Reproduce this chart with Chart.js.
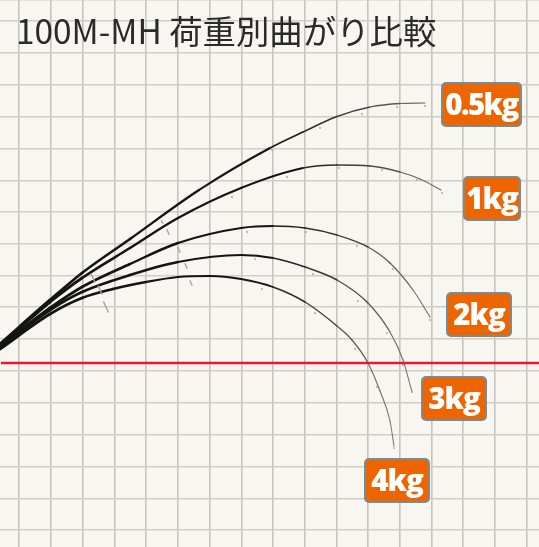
<!DOCTYPE html>
<html lang="ja">
<head>
<meta charset="utf-8">
<title>100M-MH 荷重別曲がり比較</title>
<script src="https://cdn.jsdelivr.net/npm/chart.js@4/dist/chart.umd.min.js"></script>
<style>
    html, body { margin: 0; padding: 0; background: #f7f6f0; }
    #wrap { position: relative; width: 539px; height: 547px; overflow: hidden; }
    #rodChart { position: absolute; left: 0; top: 0; }
    #title {
        position: absolute; left: 16px; top: 5px; white-space: nowrap;
        font: 400 33.4px "Noto Sans CJK JP", "Noto Sans", sans-serif; color: #2a2a2a;
    }
    .badge {
        position: absolute; box-sizing: border-box; height: 45px;
        background: #ee6500; border: 2px solid #7d8a8e; border-radius: 5px;
        color: #fff; text-align: center; white-space: nowrap;
        font: 800 29.5px/39px "Open Sans", sans-serif; letter-spacing: -1px;
    }
</style>
</head>
<body>
<div id="wrap">
    <canvas id="rodChart" width="539" height="547"></canvas>
    <div id="title">100M-MH 荷重別曲がり比較</div>
    <div class="badge" style="left:441px;top:82px;width:81px;letter-spacing:-1.6px">0.5kg</div>
    <div class="badge" style="left:463px;top:176px;width:58px">1kg</div>
    <div class="badge" style="left:446px;top:292px;width:66px">2kg</div>
    <div class="badge" style="left:421px;top:376px;width:66px">3kg</div>
    <div class="badge" style="left:364px;top:458px;width:66px">4kg</div>
</div>
<script>
    // grid positions
    const gridX = [19, 51, 83, 114.5, 146, 178, 210, 241.5, 273, 305, 337, 368, 400, 432, 463, 495, 527];
    const gridY = [0, 21, 52.5, 84.5, 116.5, 148.5, 180.5, 212, 243.7, 275.5, 307, 339, 371, 403, 435, 467, 498.5, 530];

    // rod curves
    const rod05x = [0, 50, 82, 130, 199, 270, 303, 337, 370, 400, 425];
    const rod05y = [344, 300, 273, 239, 190, 148, 132, 116.5, 107, 103.5, 103];
    const rod1x = [0, 50, 82, 130, 178, 241, 303, 337, 370, 400, 420, 441];
    const rod1y = [345, 302, 278, 248, 218, 188, 168, 165, 166, 172, 179, 190];
    const rod2x = [0, 50, 82, 130, 178, 241, 273, 305, 337, 368, 390, 413, 430];
    const rod2y = [346, 308, 287, 264, 243, 228, 226, 228, 235, 247, 263, 290, 317];
    const rod3x = [0, 50, 82, 130, 178, 241, 273, 305, 337, 368, 390, 403, 412];
    const rod3y = [347, 310, 292, 275, 262, 255, 258, 267, 280, 303, 332, 360, 392];
    const rod4x = [0, 50, 82, 113, 146, 178, 210, 241, 273, 305, 337, 352, 368, 380, 390, 394];
    const rod4y = [349, 314, 298, 289, 282, 277, 276, 279, 287, 302, 326, 340, 363, 391, 421, 446];

    // guides, hanging just under each curve
    const guideX = [425, 397, 362, 320, 272, 162, 442, 417, 382, 339, 287, 232, 168, 357, 306, 247, 179, 93, 430, 393, 412, 403, 387, 358, 313, 255, 186, 100, 394, 390, 377, 355, 315, 262, 191, 106];
    const guideY = [106, 107, 114, 128, 150, 222, 193, 180, 170, 168, 177, 197, 232, 246, 232, 232, 250, 278, 320, 269, 392, 365, 333, 301, 274, 259, 266, 290, 448, 421, 387, 349, 313, 289, 283, 307];
    const guideLen = [1, 1, 1, 1, 1, 2, 1, 1, 1, 1, 1, 1, 3, 1, 1, 1, 3, 5, 1, 1, 1, 1, 1, 1, 1, 1, 3, 5, 1, 1, 1, 1, 1, 1, 3, 6];

    // red reference line
    const refX = [1, 539];
    const refY = [363, 363];

    const toPoints = (xs, ys) => xs.map((x, i) => ({ x: x, y: ys[i] }));

    function rodDataset(xs, ys) {
        const tipX = xs[xs.length - 1];
        return {
            type: 'line',
            data: toPoints(xs, ys),
            pointRadius: 0,
            cubicInterpolationMode: 'monotone',
            borderCapStyle: 'round',
            segment: {
                // rod gets thinner and paler toward the tip
                borderWidth: c => 3 - 2 * (c.p0.parsed.x / tipX),
                borderColor: c => {
                    const t = c.p0.parsed.x / tipX;
                    const g = t < 0.6 ? 20 : Math.round(20 + (t - 0.6) / 0.4 * 100);
                    return 'rgb(' + g + ',' + g + ',' + g + ')';
                }
            }
        };
    }

    new Chart(document.getElementById('rodChart').getContext('2d'), {
        type: 'scatter',
        data: {
            datasets: [
                {
                    type: 'line',
                    data: toPoints(refX, refY),
                    borderColor: '#e8192c',
                    borderWidth: 2.6,
                    pointRadius: 0
                },
                {
                    type: 'scatter',
                    data: toPoints(guideX, guideY),
                    pointStyle: 'line',
                    pointRotation: 65,
                    pointRadius: guideLen,
                    pointBorderColor: '#a3a3a0',
                    pointBorderWidth: 1.4,
                    pointBackgroundColor: '#a3a3a0'
                },
                rodDataset(rod05x, rod05y),
                rodDataset(rod1x, rod1y),
                rodDataset(rod2x, rod2y),
                rodDataset(rod3x, rod3y),
                rodDataset(rod4x, rod4y)
            ]
        },
        options: {
            responsive: false,
            animation: false,
            layout: { padding: 0, autoPadding: false },
            plugins: { legend: { display: false }, tooltip: { enabled: false }, title: { display: false } },
            scales: {
                x: {
                    type: 'linear', min: 0, max: 539,
                    afterBuildTicks: s => { s.ticks = gridX.map(v => ({ value: v })); },
                    afterFit: s => { s.height = 0; },
                    ticks: { display: false },
                    border: { display: false },
                    grid: { color: '#c6c4bd', lineWidth: 1.6, drawTicks: false }
                },
                y: {
                    type: 'linear', min: 0, max: 547, reverse: true,
                    afterBuildTicks: s => { s.ticks = gridY.map(v => ({ value: v })); },
                    afterFit: s => { s.width = 0; },
                    ticks: { display: false },
                    border: { display: false },
                    grid: { color: '#d0cec7', lineWidth: 1.6, drawTicks: false }
                }
            }
        }
    });
</script>
</body>
</html>
